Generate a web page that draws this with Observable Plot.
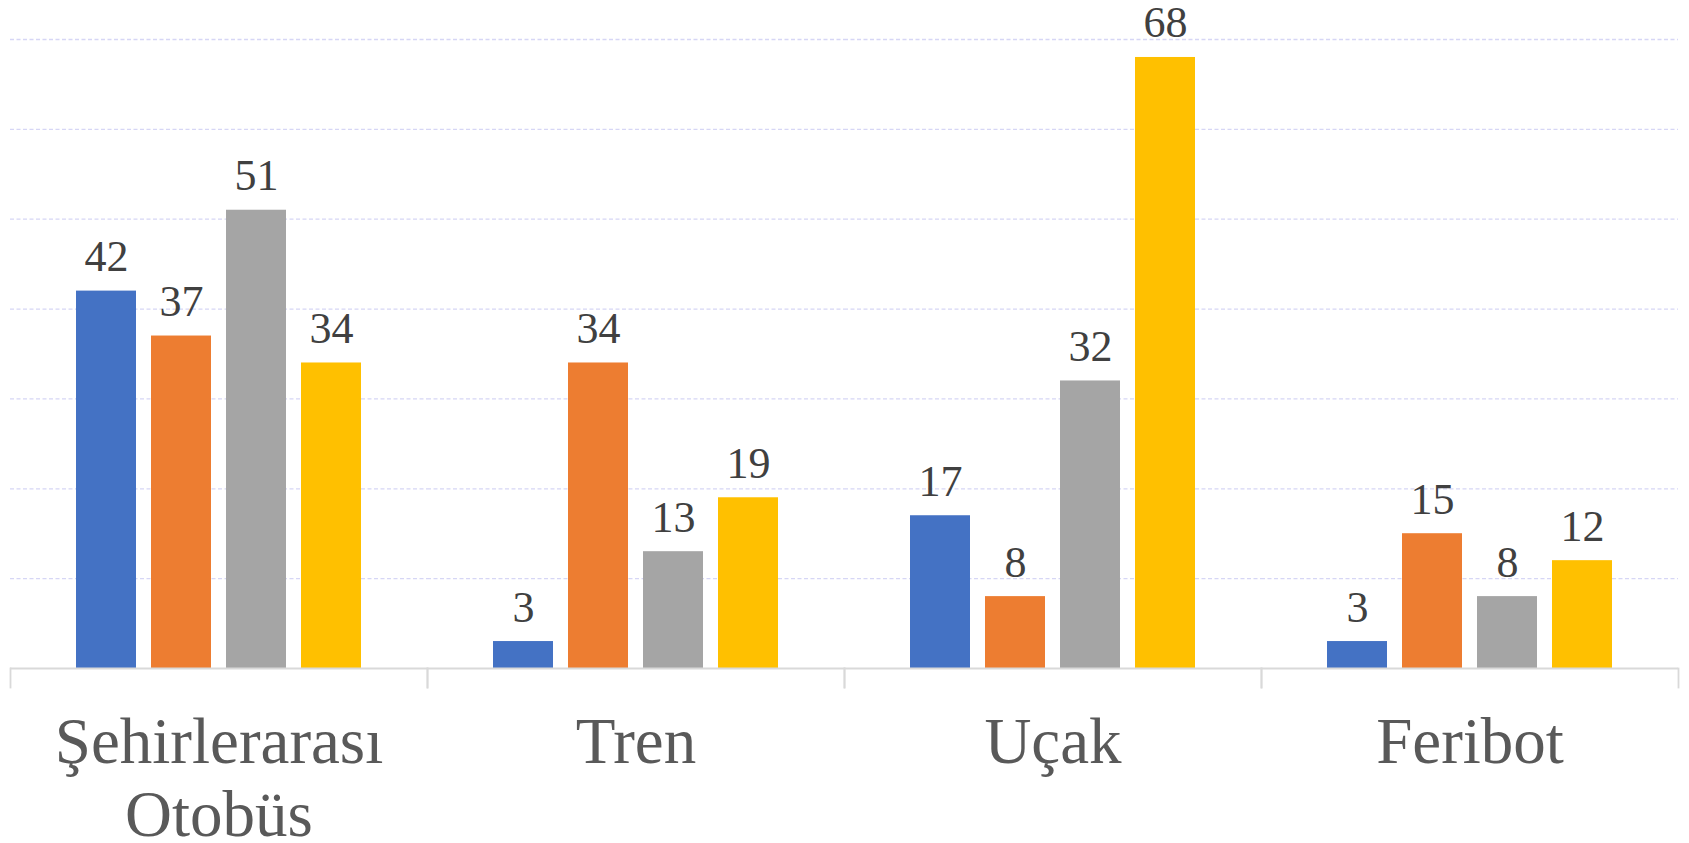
<!DOCTYPE html>
<html>
<head>
<meta charset="utf-8">
<script src="https://cdn.jsdelivr.net/npm/d3@7"></script>
<script src="https://cdn.jsdelivr.net/npm/@observablehq/plot@0.6"></script>
<style>
  html, body { margin: 0; padding: 0; background: #fff; overflow: hidden; }
  #chart svg { display: block; }
</style>
</head>
<body>
<div id="chart"></div>
<script>
// ---- data ----
const categories = ["Şehirlerarası\nOtobüs", "Tren", "Uçak", "Feribot"];
const seriesNames = ["Seri 1", "Seri 2", "Seri 3", "Seri 4"];
const series1 = [42, 3, 17, 3];
const series2 = [37, 34, 8, 15];
const series3 = [51, 13, 32, 8];
const series4 = [34, 19, 68, 12];
const yTicks = [10, 20, 30, 40, 50, 60, 70];
const colors = ["#4472C4", "#ED7D31", "#A5A5A5", "#FFC000"];

const allSeries = [series1, series2, series3, series4];
const data = [];
categories.forEach((c, i) => {
  allSeries.forEach((s, j) => {
    data.push({category: c, series: seriesNames[j], value: s[i]});
  });
});

const W = 1689, H = 843;
const mT = 39, mB = 175, mL = 9, mR = 11;
const font = "'Liberation Serif', 'Times New Roman', 'DejaVu Serif', serif";

const chart = Plot.plot({
  width: W,
  height: H,
  marginTop: mT,
  marginBottom: mB,
  marginLeft: mL,
  marginRight: mR,
  style: {fontFamily: font, background: "#fff"},
  fx: {domain: categories, padding: 0, label: null},
  x: {domain: seriesNames, paddingInner: 0.2, paddingOuter: 0.856, axis: null},
  y: {domain: [0, 70], axis: null},
  color: {domain: seriesNames, range: colors},
  marks: [
    Plot.gridY(yTicks, {stroke: "#d6d6f5", strokeOpacity: 1, strokeWidth: 1.3, strokeDasharray: "4,2.5"}),
    Plot.barY(data, {fx: "category", x: "series", y: "value", fill: "series"}),
    Plot.text(data, {
      fx: "category", x: "series", y: "value", text: d => String(d.value),
      lineAnchor: "bottom", dy: -20, fontSize: 44, fill: "#404040", fontFamily: font
    }),
    Plot.ruleY([0], {stroke: "#d9d9d9", strokeWidth: 1.8}),
    Plot.frame({anchor: "left", stroke: "#d9d9d9", strokeWidth: 1.8, insetTop: H - mT - mB, insetBottom: -19}),
    Plot.frame({anchor: "right", stroke: "#d9d9d9", strokeWidth: 1.8, insetTop: H - mT - mB, insetBottom: -19}),
    Plot.axisFx({
      anchor: "bottom", tickSize: 0, tickPadding: 43, label: null,
      fontSize: 65, lineHeight: 1.12, fill: "#595959", fontFamily: font
    })
  ]
});

document.getElementById("chart").appendChild(chart);
</script>
</body>
</html>
